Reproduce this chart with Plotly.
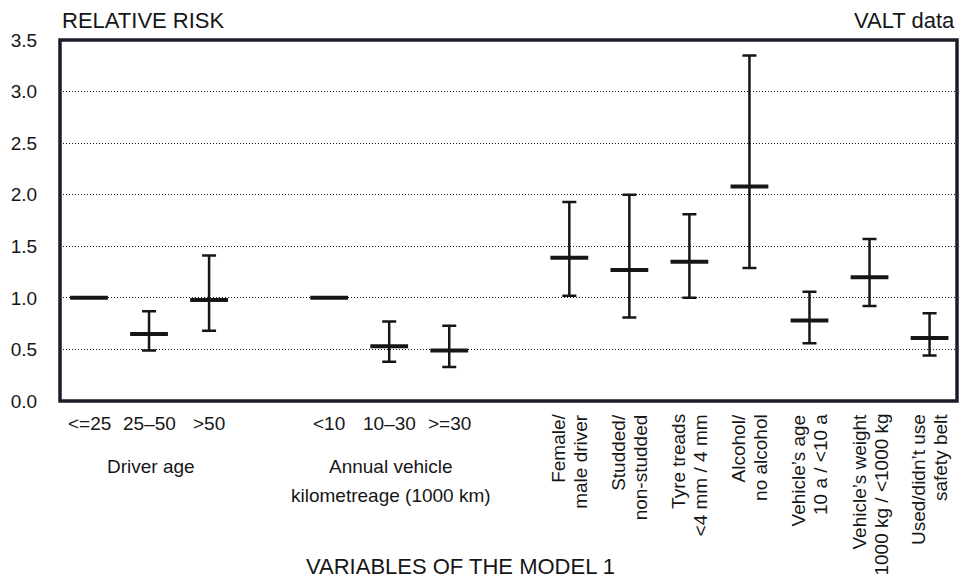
import numpy as np
import plotly.graph_objects as go

# Relative risk estimates with 95% confidence limits (reference groups have none)
driver_age = ["<=25", "25–50", ">50"]
driver_age_rr = [1.00, 0.65, 0.98]
driver_age_lo = [None, 0.49, 0.68]
driver_age_hi = [None, 0.87, 1.41]

kilometreage = ["<10", "10–30", ">=30"]
kilometreage_rr = [1.00, 0.53, 0.49]
kilometreage_lo = [None, 0.38, 0.33]
kilometreage_hi = [None, 0.77, 0.73]

factor_labels = [
    ("Female/", "male driver"),
    ("Studded/", "non-studded"),
    ("Tyre treads", "<4 mm / 4 mm"),
    ("Alcohol/", "no alcohol"),
    ("Vehicle’s age", "10 a / <10 a"),
    ("Vehicle’s weight", "1000 kg / <1000 kg"),
    ("Used/didn’t use", "safety belt"),
]
factor_rr = [1.39, 1.27, 1.35, 2.08, 0.78, 1.20, 0.61]
factor_lo = [1.02, 0.81, 1.00, 1.29, 0.56, 0.92, 0.44]
factor_hi = [1.93, 2.00, 1.81, 3.35, 1.06, 1.57, 0.85]

group_titles = [["Driver age"], ["Annual vehicle", "kilometreage (1000 km)"]]
y_ticks = [0.0, 0.5, 1.0, 1.5, 2.0, 2.5, 3.0, 3.5]

factor_keys = [" ".join(p) for p in factor_labels]
categories = driver_age + kilometreage + factor_keys
rr = np.array(driver_age_rr + kilometreage_rr + factor_rr, dtype=float)
lo = np.array(driver_age_lo + kilometreage_lo + factor_lo, dtype=float)
hi = np.array(driver_age_hi + kilometreage_hi + factor_hi, dtype=float)

# spacer categories leave an empty slot between the variable groups
category_order = driver_age + ["gap1"] + kilometreage + ["gap2"] + factor_keys

INK = "#161616"
FONT = "Liberation Sans, Arial, Helvetica, sans-serif"

fig = go.Figure()
fig.add_trace(go.Scatter(
    x=categories,
    y=rr,
    mode="markers",
    marker=dict(symbol="line-ew", size=27, color=INK,
                line=dict(color=INK, width=4)),
    error_y=dict(type="data", symmetric=False,
                 array=hi - rr, arrayminus=rr - lo,
                 color=INK, thickness=2.5, width=7),
    hoverinfo="x+y",
    showlegend=False,
))

annotations = []
# horizontal category labels for the two grouped variables
for cat in driver_age + kilometreage:
    annotations.append(dict(x=cat, xref="x", y=0, yref="paper", yshift=-22,
                            text=cat, showarrow=False, xanchor="center",
                            yanchor="middle", font=dict(size=19, color=INK)))

# group captions under those labels
for group, lines in zip([driver_age, kilometreage], group_titles):
    for k, line in enumerate(lines):
        annotations.append(dict(x=group[1], xref="x", y=0, yref="paper",
                                yshift=-65 - 29 * k, xshift=2,
                                text=line, showarrow=False, xanchor="center",
                                yanchor="middle", font=dict(size=19, color=INK)))

# rotated two-line labels for the single binary factors
for key, (first, second) in zip(factor_keys, factor_labels):
    for shift, line in ((-11, first), (11, second)):
        annotations.append(dict(x=key, xref="x", y=0, yref="paper", yshift=-11,
                                xshift=shift, text=line, textangle=-90,
                                showarrow=False, xanchor="center", yanchor="top",
                                font=dict(size=19, color=INK)))

annotations += [
    dict(x=0, xref="paper", y=1, yref="paper", yshift=20, text="RELATIVE RISK",
         showarrow=False, xanchor="left", yanchor="middle",
         font=dict(size=22, color=INK)),
    dict(x=1, xref="paper", y=1, yref="paper", yshift=20, text="VALT data",
         showarrow=False, xanchor="right", yanchor="middle",
         font=dict(size=22, color=INK)),
    dict(x=0.446, xref="paper", y=0, yref="paper", yshift=-165,
         text="VARIABLES OF THE MODEL 1", showarrow=False, xanchor="center",
         yanchor="middle", font=dict(size=22, color=INK)),
]

fig.update_layout(
    width=963, height=580,
    margin=dict(l=60, r=6, t=40, b=179),
    paper_bgcolor="white", plot_bgcolor="white",
    font=dict(family=FONT, color=INK),
    annotations=annotations,
    shapes=[dict(type="rect", xref="paper", yref="paper", x0=0, x1=1, y0=0, y1=1,
                 line=dict(color="#1c1c28", width=3.5), layer="above")],
    xaxis=dict(type="category", categoryorder="array", categoryarray=category_order,
               range=[-0.483, 14.457], showticklabels=False, ticks="",
               showgrid=False, zeroline=False, showline=False, fixedrange=True),
    yaxis=dict(range=[0, 3.5], tickvals=y_ticks, tickformat=".1f",
               ticks="outside", ticklen=18, tickcolor="rgba(0,0,0,0)",
               tickfont=dict(size=19, color=INK),
               showgrid=True, gridcolor="#111111", gridwidth=1, griddash="1px,2px",
               zeroline=False, showline=False, fixedrange=True),
)

fig.write_html("out.html")
